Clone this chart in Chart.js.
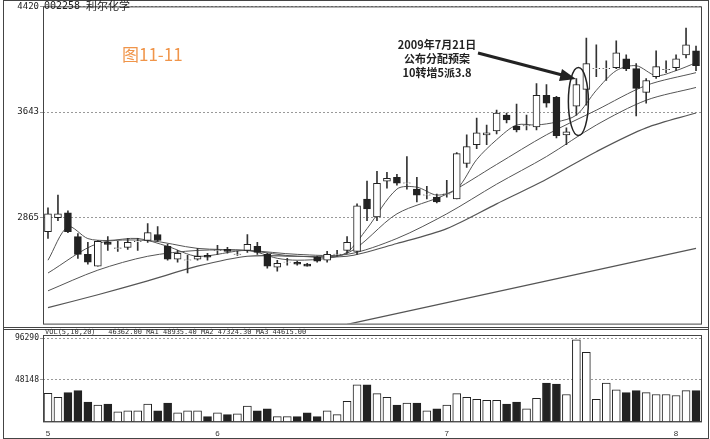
<!DOCTYPE html>
<html>
<head>
<meta charset="utf-8">
<script src="https://cdn.jsdelivr.net/npm/chart.js@4.4.0/dist/chart.umd.min.js"></script>
<style>
  body { margin: 0; background: #fff; }
  #wrap { position: relative; width: 710px; height: 439px; }
  #c1 { position: absolute; left: 0; top: 0; }
  #c2 { position: absolute; left: 0; top: 327px; }
</style>
</head>
<body>
<div id="wrap">
  <canvas id="c1" width="710" height="330"></canvas>
  <canvas id="c2" width="710" height="112"></canvas>
</div>
<script>
// candles: open, high, low, close
const opens  = [2764,2866,2902,2728,2597,2510,2685,2641,2648,2690,2699,2743,2656,2561,2554,2561,2590,2626,2634,2597,2626,2656,2597,2503,2539,2539,2525,2576,2554,2597,2626,2619,3004,2873,3135,3164,3120,3077,3033,3018,3040,3004,3265,3403,3476,3505,3621,3541,3541,3534,3766,3752,3476,3686,3810,3962,3962,3970,4035,3962,3788,3904,3955,3970,4064,4093]
const highs  = [2939,3033,2917,2750,2685,2699,2728,2692,2714,2714,2823,2801,2670,2626,2590,2641,2605,2663,2648,2619,2743,2685,2605,2554,2568,2547,2532,2583,2619,2626,2728,2968,3135,3207,3200,3185,3316,3164,3098,3040,3142,3345,3476,3599,3548,3657,3636,3701,3621,3853,3846,3759,3527,3890,4187,4137,4020,4166,4064,3999,3890,4093,4020,4064,4260,4129]
const lows   = [2714,2844,2757,2568,2525,2510,2626,2619,2634,2626,2685,2692,2554,2539,2460,2554,2554,2597,2605,2590,2612,2597,2496,2474,2518,2518,2510,2539,2539,2583,2605,2597,2844,2844,3084,3106,3077,2982,3004,2975,3018,3004,3236,3374,3403,3483,3563,3498,3512,3512,3679,3454,3403,3621,3694,3904,3875,3962,3948,3614,3708,3890,3933,3948,4042,3948]
const closes = [2895,2895,2764,2597,2539,2692,2670,2645,2685,2692,2757,2699,2561,2605,2556,2583,2576,2628,2619,2599,2670,2612,2510,2532,2541,2525,2510,2547,2597,2599,2685,2953,2931,3120,3156,3120,3122,3033,3035,2982,3042,3338,3389,3490,3490,3636,3585,3512,3543,3766,3708,3469,3498,3846,3999,3964,3964,4078,3962,3817,3875,3977,3957,4035,4137,3984]
const volumes = [32550,27780,33330,35550,22220,18890,20000,11110,12220,12220,20000,12220,21110,10000,12220,12220,5560,10000,7780,8890,17780,12220,14440,5560,5560,5560,10000,5560,12220,7780,23330,42220,42220,32220,27780,18890,21110,21110,12220,14440,18890,32220,27780,25550,24440,24440,20000,22220,14440,26660,44440,43330,31110,94440,80000,25550,44440,36660,33330,35550,33330,31110,31110,30000,35550,35550]

// moving average lines, sampled at candle indexes
const ma5  = [[0,2554],[2,2800],[4,2713],[6,2699],[9,2714],[12,2656],[15,2583],[20,2626],[23,2568],[25,2554],[28,2568],[30,2612],[32,2786],[35,3077],[37,3091],[39,3033],[41,3077],[43,3294],[45,3440],[47,3548],[49,3548],[51,3570],[53,3621],[55,3803],[57,3948],[59,3984],[61,3911],[63,3948],[65,4006]]
const ma10 = [[0,2460],[5,2677],[10,2699],[15,2641],[20,2626],[25,2583],[30,2605],[35,2895],[40,3040],[45,3258],[50,3476],[55,3657],[60,3839],[65,3933]]
const ma20 = [[0,2329],[5,2481],[10,2583],[15,2626],[20,2626],[25,2597],[30,2597],[35,2714],[40,2895],[45,3113],[50,3316],[55,3548],[60,3730],[65,3824]]
const ma30 = [[0,2205],[5,2300],[10,2402],[15,2510],[20,2583],[25,2583],[30,2583],[35,2677],[40,2786],[45,2968],[50,3149],[55,3352],[60,3527],[65,3636]]
const ma120 = [[30,2082],[65,2641]]

const priceTicks = [2865, 3643, 4420]
const volTicks = [48148, 96290]
const monthTicks = { 0: '5', 17: '6', 40: '7', 63: '8' }

const labels = opens.map((o, i) => i)
const upDown = opens.map((o, i) => closes[i] >= o)
const pts = a => a.map(p => ({ x: p[0], y: p[1] }))

const notes = {
  id: 'notes',
  afterDraw (chart) {
    const ctx = chart.ctx
    const xs = chart.scales.x, ys = chart.scales.y
    ctx.save()
    ctx.fillStyle = '#222'
    ctx.font = '10px "DejaVu Sans Mono"'
    ctx.textBaseline = 'top'
    ctx.fillText('002258', 44, 1)
    ctx.font = '11px "Noto Sans CJK SC"'
    ctx.fillText('利尔化学', 86, 0)
    ctx.fillStyle = '#f0954a'
    ctx.font = '17px "Noto Sans CJK SC"'
    ctx.fillText('图11-11', 122, 46)
    ctx.fillStyle = '#222'
    ctx.font = 'bold 11px "Noto Sans CJK SC"'
    ctx.textAlign = 'center'
    ctx.fillText('2009年7月21日', 437, 39)
    ctx.fillText('公布分配预案', 437, 53)
    ctx.fillText('10转增5派3.8', 437, 67)
    // arrow
    ctx.strokeStyle = '#222'
    ctx.lineWidth = 3
    ctx.beginPath()
    ctx.moveTo(478, 53)
    ctx.lineTo(566, 76)
    ctx.stroke()
    ctx.beginPath()
    ctx.moveTo(576, 79)
    ctx.lineTo(562, 69)
    ctx.lineTo(559, 81)
    ctx.closePath()
    ctx.fillStyle = '#222'
    ctx.fill()
    // ellipse around the announcement candle
    ctx.lineWidth = 1.5
    ctx.beginPath()
    ctx.ellipse(xs.getPixelForValue(53) + 2, ys.getPixelForValue(3720), 10, 34, 0, 0, Math.PI * 2)
    ctx.stroke()
    ctx.restore()
  }
}

const frame = {
  id: 'frame',
  afterDraw (chart) {
    const a = chart.chartArea, ctx = chart.ctx
    ctx.save()
    ctx.strokeStyle = '#444'
    ctx.lineWidth = 1
    ctx.strokeRect(a.left + 0.5, a.top + 0.5, a.right - a.left, a.bottom - a.top)
    ctx.strokeRect(3.5, 0.5, 705, chart.height - 1)
    ctx.restore()
  }
}

new Chart(document.getElementById('c1'), {
  data: {
    labels: labels,
    datasets: [
      { type: 'line', data: pts(ma5), borderColor: '#555', borderWidth: 1, pointRadius: 0, tension: 0.3, order: 3 },
      { type: 'line', data: pts(ma10), borderColor: '#555', borderWidth: 1, pointRadius: 0, tension: 0.3, order: 3 },
      { type: 'line', data: pts(ma20), borderColor: '#555', borderWidth: 1, pointRadius: 0, tension: 0.3, order: 3 },
      { type: 'line', data: pts(ma30), borderColor: '#555', borderWidth: 1.2, pointRadius: 0, tension: 0.3, order: 3 },
      { type: 'line', data: pts(ma120), borderColor: '#555', borderWidth: 1.2, pointRadius: 0, order: 3 },
      { type: 'bar', data: lows.map((l, i) => [l, highs[i]]), backgroundColor: '#333', barThickness: 1, grouped: false, order: 2 },
      {
        type: 'bar',
        data: opens.map((o, i) => o === closes[i] ? [o - 3, o + 3] : [o, closes[i]]),
        backgroundColor: upDown.map(u => u ? '#fff' : '#222'),
        borderColor: '#222', borderWidth: 1, borderSkipped: false,
        barThickness: 7, grouped: false, order: 1
      }
    ]
  },
  options: {
    responsive: false, animation: false,
    layout: { padding: { top: 5, right: 9, bottom: 2 } },
    plugins: { legend: { display: false }, tooltip: { enabled: false } },
    scales: {
      x: { type: 'category', offset: true, display: false, grid: { display: false } },
      y: {
        min: 2088, max: 4420,
        afterFit: s => { s.width = 43 },
        afterBuildTicks: s => { s.ticks = priceTicks.map(v => ({ value: v })) },
        ticks: { color: '#222', font: { size: 9, family: 'DejaVu Sans Mono' }, padding: 1, callback: v => String(v) },
        grid: { color: '#999', drawTicks: true, tickLength: 3 },
        border: { display: false, dash: [2, 2] }
      }
    }
  },
  plugins: [frame, notes]
})

const volNotes = {
  id: 'volNotes',
  afterDraw (chart) {
    const ctx = chart.ctx
    ctx.save()
    ctx.fillStyle = '#333'
    ctx.font = '7px "DejaVu Sans Mono"'
    ctx.textBaseline = 'top'
    ctx.fillText('VOL(5,10,20)   46362.00 MA1 48935.40 MA2 47324.30 MA3 44615.00', 45, 2)
    ctx.restore()
  }
}

new Chart(document.getElementById('c2'), {
  type: 'bar',
  data: {
    labels: labels,
    datasets: [{
      data: volumes,
      backgroundColor: upDown.map(u => u ? '#fff' : '#222'),
      borderColor: '#222', borderWidth: 1, borderSkipped: 'bottom',
      barThickness: 8
    }]
  },
  options: {
    responsive: false, animation: false,
    layout: { padding: { top: 8, right: 9, bottom: 0 } },
    plugins: { legend: { display: false }, tooltip: { enabled: false } },
    scales: {
      x: {
        offset: true,
        grid: { display: false },
        border: { color: '#444' },
        ticks: {
          autoSkip: false, maxRotation: 0, padding: 0,
          font: { size: 8 }, color: '#333',
          callback: (v, i) => monthTicks[i] || ''
        }
      },
      y: {
        min: 0, max: 100000,
        afterFit: s => { s.width = 43 },
        afterBuildTicks: s => { s.ticks = volTicks.map(v => ({ value: v })) },
        ticks: { color: '#222', font: { size: 8, family: 'DejaVu Sans Mono' }, padding: 1, callback: v => String(v) },
        grid: { color: '#999', tickLength: 3 },
        border: { display: false, dash: [2, 2] }
      }
    }
  },
  plugins: [frame, volNotes]
})
</script>
</body>
</html>
